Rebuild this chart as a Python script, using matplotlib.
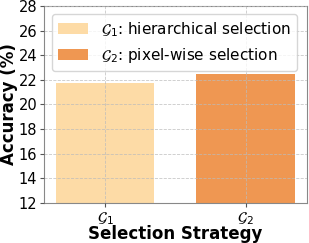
import matplotlib
matplotlib.use("Agg")
import matplotlib.pyplot as plt

categories = [r"$\mathcal{G}_1$", r"$\mathcal{G}_2$"]
values = [21.75, 22.5]
legend_labels = [r"$\mathcal{G}_1$: hierarchical selection", r"$\mathcal{G}_2$: pixel-wise selection"]
colors = ["#FDDBA6", "#EF9752"]

fig, ax = plt.subplots(figsize=(3.09, 2.43), dpi=100)
x = list(range(len(categories)))
bars = ax.bar(x, values, width=0.7, color=colors, zorder=2)
for b, lab in zip(bars, legend_labels):
    b.set_label(lab)
ax.set_ylim(12, 28)
ax.set_yticks(range(12, 29, 2))
ax.set_xticks(x)
ax.set_xticklabels(categories, fontsize=11)
ax.tick_params(axis='y', labelsize=10.5, pad=2, length=3)
ax.tick_params(axis='x', pad=2, length=3)
ax.tick_params(colors='#555555', labelcolor='black')
ax.set_ylabel("Accuracy (%)", fontsize=12, fontweight='bold', labelpad=0.5)
ax.set_xlabel("Selection Strategy", fontsize=12, fontweight='bold', labelpad=-1.2)
ax.grid(True, linestyle='--', color='#bbbbbb', linewidth=0.6, alpha=0.8, zorder=3)
ax.set_axisbelow(False)
for s in ax.spines.values():
    s.set_color('#888888')
ax.legend(loc='upper left', fontsize=11, framealpha=0.8)
fig.subplots_adjust(left=0.143, right=0.992, top=0.975, bottom=0.165)
fig.savefig("out.png", dpi=100)
